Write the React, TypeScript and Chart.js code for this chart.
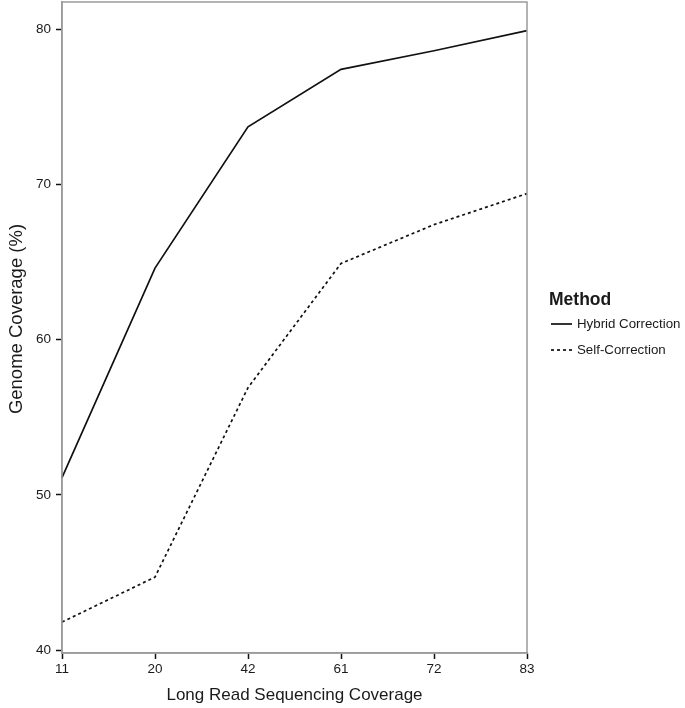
import React, { useEffect, useRef } from "react";
import { Chart, registerables } from "chart.js";

Chart.register(...registerables);

const categories = ["11", "20", "42", "61", "72", "83"];
const hybridCorrection = [51.1, 64.6, 73.7, 77.4, 78.6, 79.9];
const selfCorrection = [41.8, 44.7, 56.9, 64.9, 67.4, 69.4];
const yTicks = [40, 50, 60, 70, 80];
const seriesNames = ["Hybrid Correction", "Self-Correction"];
const legendTitle = "Method";
const yTitle = "Genome Coverage (%)";
const xTitle = "Long Read Sequencing Coverage";

const FONT = "'Liberation Sans', Arial, Helvetica, sans-serif";
const TEXT = "#1a1a1a";

const frameAndLegend = {
  id: "frameAndLegend",
  afterDraw(chart: any) {
    const { ctx, chartArea } = chart;
    ctx.save();
    ctx.strokeStyle = "#9a9a9a";
    ctx.lineWidth = 1.5;
    ctx.strokeRect(chartArea.left, chartArea.top, chartArea.right - chartArea.left, chartArea.bottom - chartArea.top);

    // y title
    ctx.save();
    ctx.translate(17, 319);
    ctx.rotate(-Math.PI / 2);
    ctx.fillStyle = TEXT;
    ctx.textAlign = "center";
    ctx.textBaseline = "middle";
    ctx.font = `18.5px ${FONT}`;
    ctx.fillText(yTitle, 0, 0);
    ctx.restore();

    // legend
    const x0 = chartArea.right + 24;
    ctx.fillStyle = TEXT;
    ctx.textBaseline = "middle";
    ctx.textAlign = "left";
    ctx.font = `bold 17.5px ${FONT}`;
    ctx.fillText(legendTitle, x0 - 2, 300);
    ctx.font = `13.3px ${FONT}`;
    const ys = [324, 350];
    chart.data.datasets.forEach((ds: any, i: number) => {
      ctx.beginPath();
      ctx.strokeStyle = ds.borderColor;
      ctx.lineWidth = ds.borderWidth;
      ctx.setLineDash(ds.borderDash || []);
      ctx.moveTo(x0, ys[i]);
      ctx.lineTo(x0 + 21, ys[i]);
      ctx.stroke();
      ctx.setLineDash([]);
      ctx.fillText(ds.label, x0 + 26, ys[i]);
    });
    ctx.restore();
  },
};

export default function App() {
  const ref = useRef<HTMLCanvasElement>(null);
  useEffect(() => {
    if (!ref.current) return;
    const chart = new Chart(ref.current, {
      type: "line",
      data: {
        labels: categories,
        datasets: [
          {
            label: seriesNames[0],
            data: hybridCorrection,
            borderColor: "#111",
            borderWidth: 1.7,
            pointRadius: 0,
            fill: false,
            tension: 0,
          },
          {
            label: seriesNames[1],
            data: selfCorrection,
            borderColor: "#111",
            borderWidth: 1.7,
            borderDash: [3, 3],
            pointRadius: 0,
            fill: false,
            tension: 0,
          },
        ],
      },
      options: {
        responsive: false,
        animation: false,
        layout: { padding: { top: 2, right: 158, left: 0, bottom: 0 } },
        plugins: { legend: { display: false }, tooltip: { enabled: false } },
        scales: {
          x: {
            type: "category",
            offset: false,
            afterFit(scale: any) {
              scale.height = 55;
              scale.paddingLeft = 0;
              scale.paddingRight = 0;
            },
            grid: { drawOnChartArea: false, drawTicks: true, tickLength: 6, tickColor: "#111", tickWidth: 1.5 },
            border: { display: true, color: "#9a9a9a", width: 1.5 },
            ticks: { color: TEXT, font: { family: FONT, size: 13.5 }, padding: 2, maxRotation: 0, autoSkip: false },
            title: {
              display: true,
              text: xTitle,
              color: TEXT,
              font: { family: FONT, size: 17 },
              padding: { top: 0, bottom: 2 },
            },
          },
          y: {
            type: "linear",
            min: 39.81,
            max: 81.74,
            afterFit(scale: any) {
              scale.width = 62;
              scale.paddingTop = 0;
              scale.paddingBottom = 0;
            },
            afterBuildTicks(scale: any) {
              scale.ticks = yTicks.map((v) => ({ value: v }));
            },
            grid: { drawOnChartArea: false, drawTicks: true, tickLength: 6, tickColor: "#111", tickWidth: 1.5 },
            border: { display: true, color: "#9a9a9a", width: 1.5 },
            ticks: { color: TEXT, font: { family: FONT, size: 13.5 }, padding: 5 },
            title: { display: false },
          },
        },
      },
      plugins: [frameAndLegend],
    });
    return () => chart.destroy();
  }, []);
  return (
    <div style={{ position: "fixed", left: 0, top: 0, width: 685, height: 708, background: "#fff" }}>
      <canvas ref={ref} width={685} height={708} />
    </div>
  );
}
